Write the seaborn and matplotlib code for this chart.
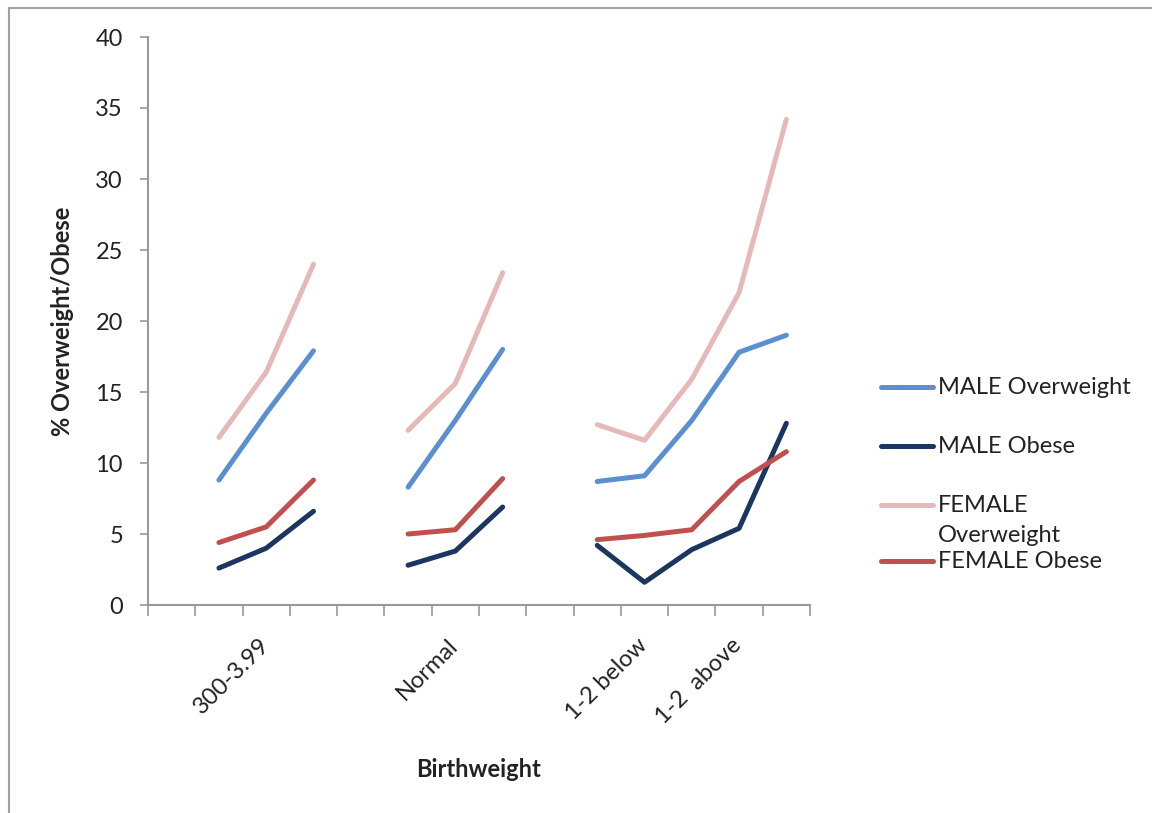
import matplotlib
matplotlib.use("Agg")
import matplotlib.pyplot as plt
from matplotlib.lines import Line2D
from matplotlib.patches import Rectangle
import matplotlib.transforms as mtransforms
import numpy as np
import pandas as pd
import seaborn as sns

# Category slots along the x axis (14 slots; only some carry a label)
n_slots = 14
tick_labels = {2: "300-3.99", 6: "Normal", 10: "1-2 below", 12: "1-2  above"}

# Slot positions of each birthweight group
group_slots = [[1, 2, 3], [5, 6, 7], [9, 10, 11, 12, 13]]

series_names = ["MALE Overweight", "MALE Obese", "FEMALE Overweight", "FEMALE Obese"]
male_overweight = [[8.8, 13.5, 17.9], [8.3, 13.0, 18.0], [8.7, 9.1, 13.0, 17.8, 19.0]]
male_obese = [[2.6, 4.0, 6.6], [2.8, 3.8, 6.9], [4.2, 1.6, 3.9, 5.4, 12.8]]
female_overweight = [[11.8, 16.4, 24.0], [12.3, 15.6, 23.4], [12.7, 11.6, 15.9, 22.0, 34.2]]
female_obese = [[4.4, 5.5, 8.8], [5.0, 5.3, 8.9], [4.6, 4.9, 5.3, 8.7, 10.8]]

colors = ["#5B8FD0", "#1B365F", "#E6B9B8", "#C0504D"]

rows = []
for name, vals in zip(series_names,
                      [male_overweight, male_obese, female_overweight, female_obese]):
    for g, (slots, gv) in enumerate(zip(group_slots, vals)):
        for s, v in zip(slots, gv):
            rows.append({"slot": s, "value": v, "series": name, "group": g})
df = pd.DataFrame(rows)

sns.set_style("white")
plt.rcParams["font.family"] = ["Lato", "DejaVu Sans"]

fig = plt.figure(figsize=(11.52, 8.13), dpi=100)
ax = fig.add_axes([148 / 1152, 1 - 605 / 813, (810 - 148) / 1152, (605 - 37) / 813])

sns.lineplot(data=df, x="slot", y="value", hue="series", units="group",
             estimator=None, palette=dict(zip(series_names, colors)),
             hue_order=series_names, linewidth=3.6, legend=False, ax=ax,
             solid_capstyle="round", solid_joinstyle="round")

ax.set_xlim(-0.5, n_slots - 0.5)
ax.set_ylim(0, 40)
ax.set_yticks(np.arange(0, 41, 5))
ax.set_yticklabels([str(v) for v in range(0, 41, 5)], fontsize=17, color="#222222")
ax.set_xticks(np.arange(-0.5, n_slots, 1.0))
ax.set_xticklabels([])
ax.tick_params(axis="x", direction="out", length=8, width=1.2, color="#999999", bottom=True)
ax.tick_params(axis="y", direction="out", length=6, width=1.2, color="#999999", left=True, pad=12)
for side in ["top", "right"]:
    ax.spines[side].set_visible(False)
for side in ["left", "bottom"]:
    ax.spines[side].set_color("#999999")
    ax.spines[side].set_linewidth(1.5)
ax.set_xlabel("")
ax.set_ylabel("")

# Rotated category labels anchored at their slot
trans = mtransforms.blended_transform_factory(ax.transData, ax.transAxes)
for slot, lab in tick_labels.items():
    ax.text(slot - 0.17, -0.052, lab, transform=trans, rotation=45,
            ha="right", va="top", fontsize=17, color="#222222",
            rotation_mode="anchor")

fig.text(478 / 1152, 1 - 769 / 813, "Birthweight", ha="center", va="center",
         fontsize=17, fontweight="bold", color="#222222")
fig.text(62 / 1152, 1 - 321 / 813, "% Overweight/Obese", ha="center", va="center",
         rotation=90, fontsize=17, fontweight="bold", color="#222222")

# Legend: colour swatch plus label, the third label wraps onto a second line
legend_y = [387, 446, 505, 561]
legend_lines = [["MALE Overweight"], ["MALE Obese"], ["FEMALE", "Overweight"], ["FEMALE Obese"]]
for y, c, parts in zip(legend_y, colors, legend_lines):
    fy = 1 - y / 813
    fig.add_artist(Line2D([881 / 1152, 933 / 1152], [fy, fy], color=c,
                          linewidth=3.6, solid_capstyle="round"))
    for k, t in enumerate(parts):
        fig.text(938 / 1152, 1 - (y + 30 * k) / 813, t, ha="left", va="center",
                 fontsize=17, color="#222222")

# Chart area frame
fig.add_artist(Rectangle((9 / 1152, -0.1), 1.2, 1 - 8 / 813 + 0.1,
                         transform=fig.transFigure, fill=False,
                         edgecolor="#A0A0A0", linewidth=1.5))

fig.savefig("out.png", dpi=100)
